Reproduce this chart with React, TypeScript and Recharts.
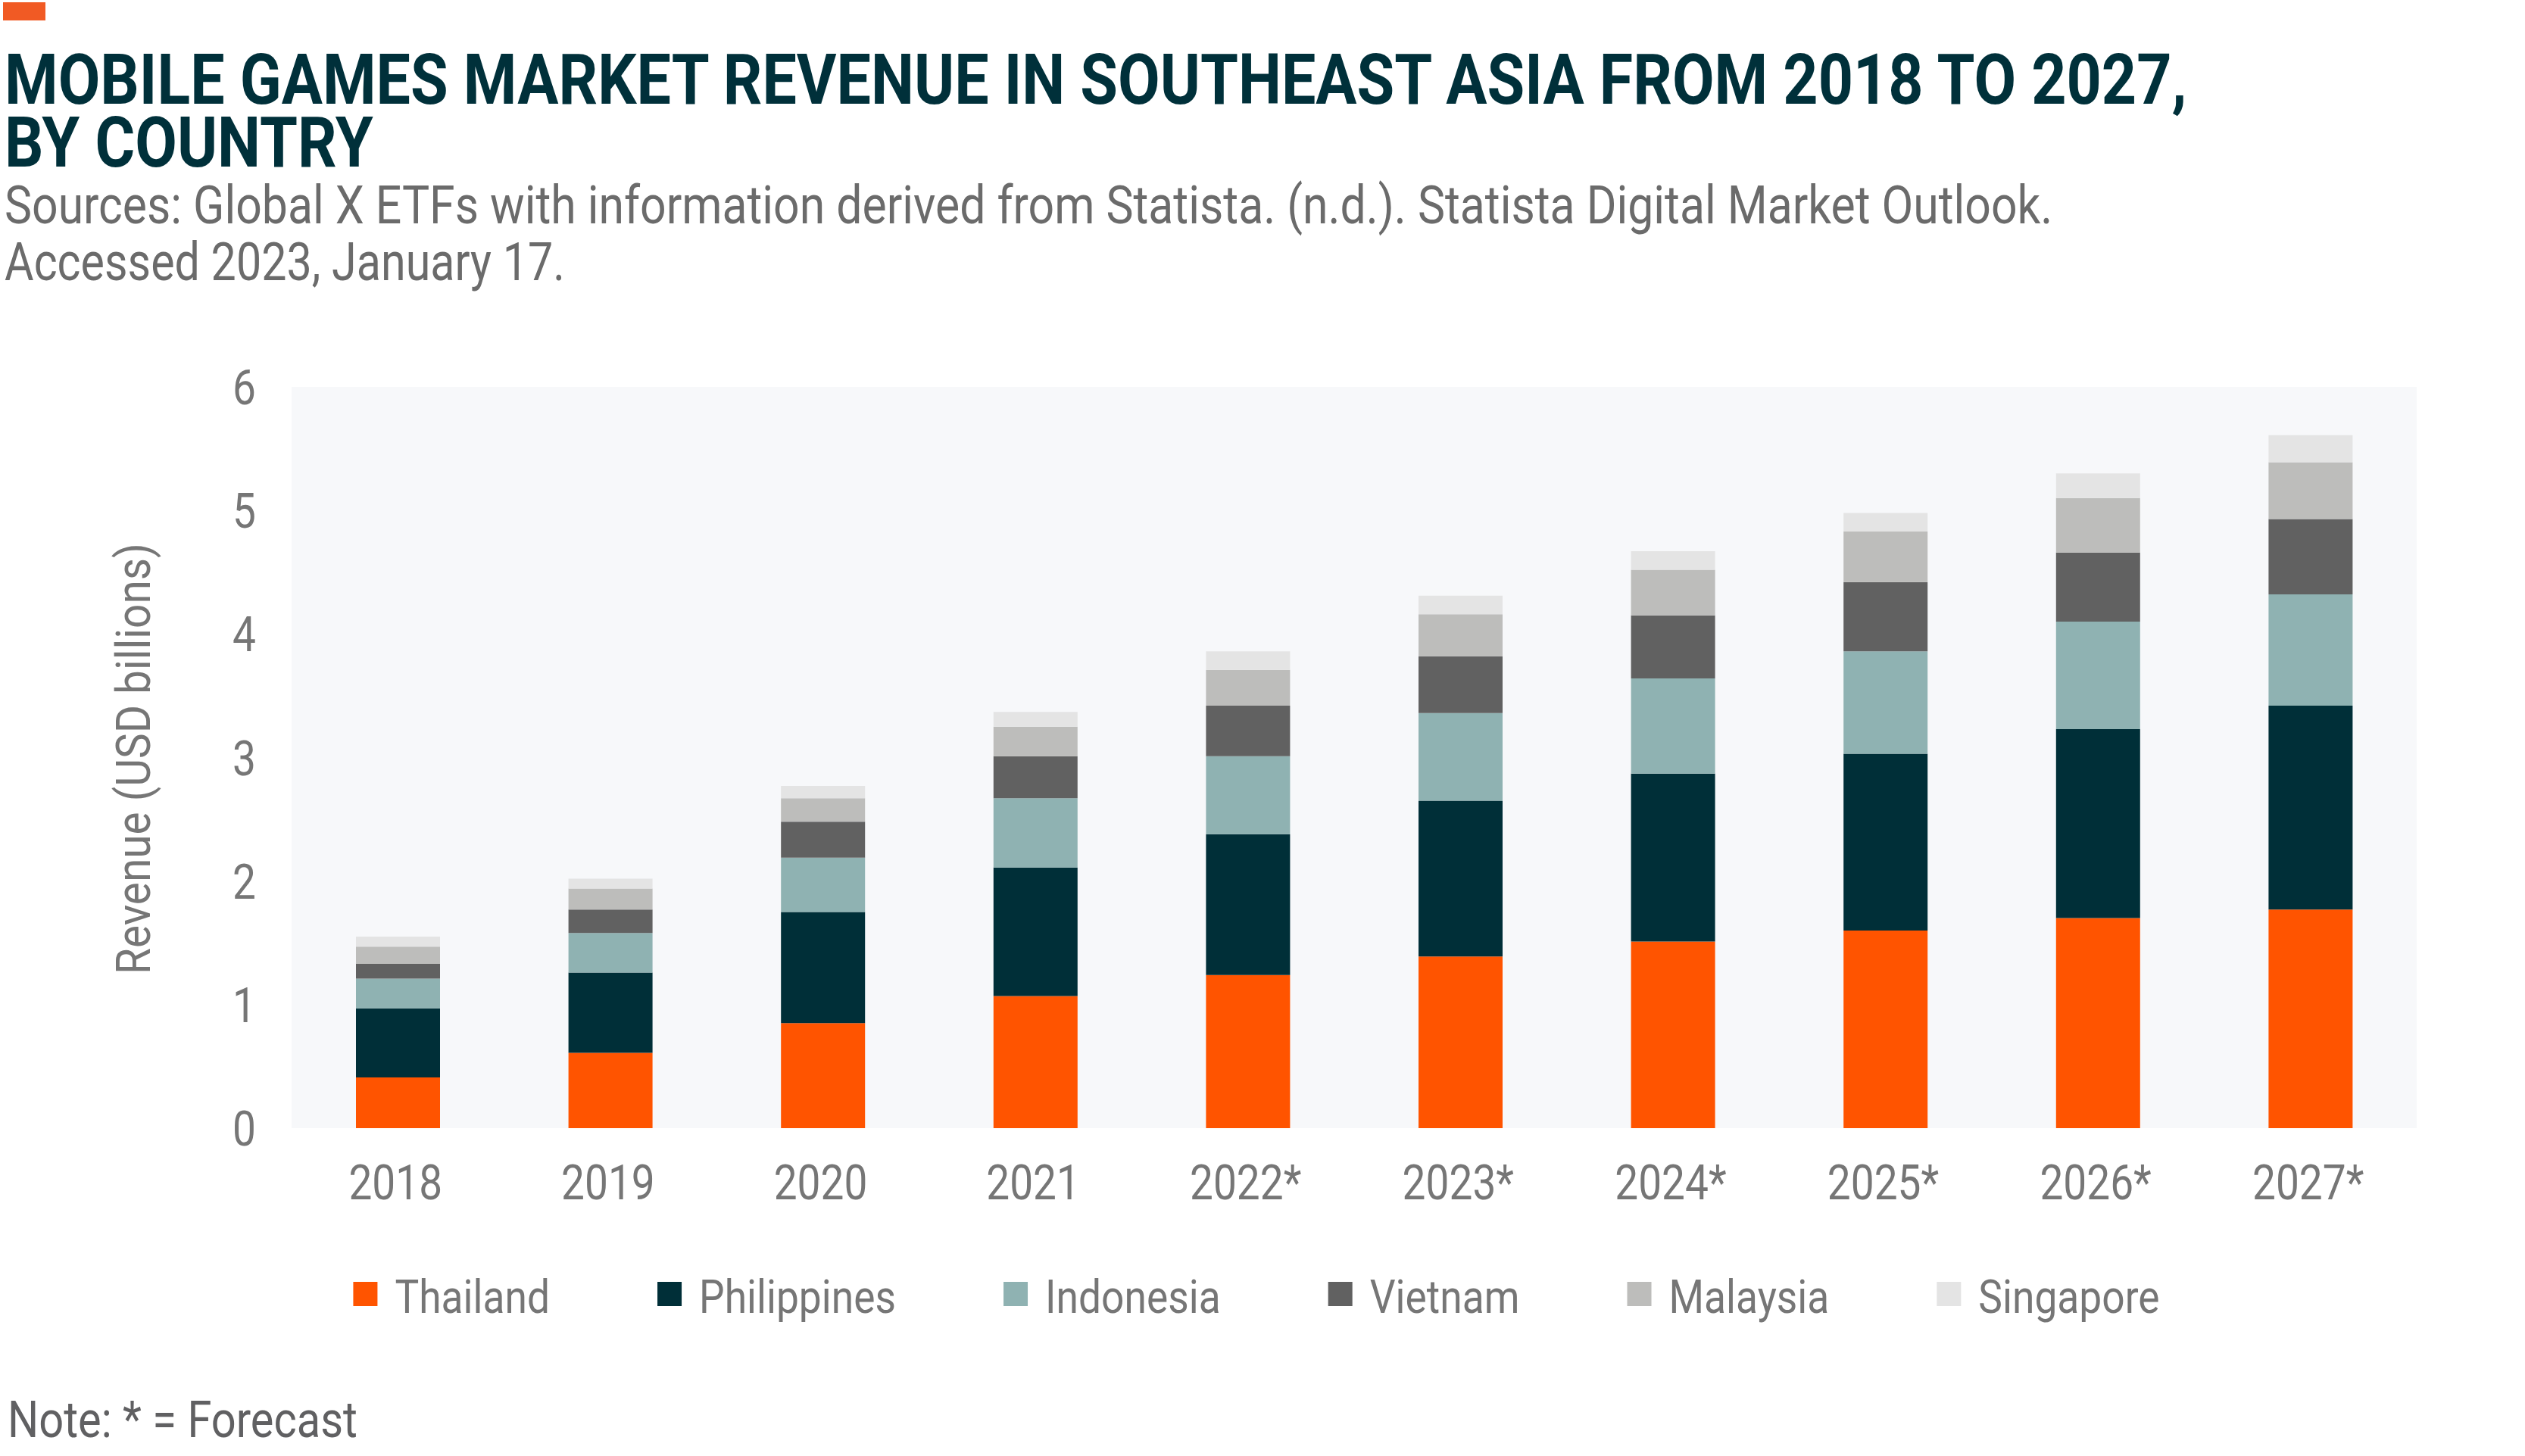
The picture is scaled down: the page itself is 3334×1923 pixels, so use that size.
import React from 'react';
import { BarChart, Bar, XAxis, YAxis, CartesianGrid, Legend } from 'recharts';

const years = ['2018', '2019', '2020', '2021', '2022*', '2023*', '2024*', '2025*', '2026*', '2027*'];
const thailand = [0.41, 0.61, 0.85, 1.07, 1.24, 1.39, 1.51, 1.6, 1.7, 1.77];
const philippines = [0.56, 0.65, 0.9, 1.04, 1.14, 1.26, 1.36, 1.43, 1.53, 1.65];
const indonesia = [0.24, 0.32, 0.44, 0.56, 0.63, 0.71, 0.77, 0.83, 0.87, 0.9];
const vietnam = [0.12, 0.19, 0.29, 0.34, 0.41, 0.46, 0.51, 0.56, 0.56, 0.61];
const malaysia = [0.14, 0.17, 0.19, 0.24, 0.29, 0.34, 0.37, 0.41, 0.44, 0.46];
const singapore = [0.08, 0.08, 0.1, 0.12, 0.15, 0.15, 0.15, 0.15, 0.2, 0.22];
const yTicks = [0, 1, 2, 3, 4, 5, 6];

const series = [
  { key: 'Thailand', values: thailand, color: '#ff5400' },
  { key: 'Philippines', values: philippines, color: '#002f38' },
  { key: 'Indonesia', values: indonesia, color: '#8fb2b2' },
  { key: 'Vietnam', values: vietnam, color: '#616161' },
  { key: 'Malaysia', values: malaysia, color: '#bdbdbb' },
  { key: 'Singapore', values: singapore, color: '#e4e4e4' },
];

const chartData = years.map((year, i) => {
  const row: Record<string, string | number> = { year };
  series.forEach((s) => {
    row[s.key] = s.values[i];
  });
  return row;
});

const W = 3334;
const H = 1923;
const FONT = "Roboto, 'Open Sans', sans-serif";
const LABEL_SIZE = 64;
const SQUEEZE = 0.86;
const TICK_COLOR = '#767676';
const TITLE_1 = 'MOBILE GAMES MARKET REVENUE IN SOUTHEAST ASIA FROM 2018 TO 2027,';
const TITLE_2 = 'BY COUNTRY';

// canvas measure, used to squeeze Roboto down to the narrow original face
const measureCtx = typeof document !== 'undefined' ? document.createElement('canvas').getContext('2d') : null;
function textWidth(s: string, size: number, weight = 400) {
  if (!measureCtx) return s.length * size * 0.5;
  measureCtx.font = `${weight} ${size}px Roboto`;
  return measureCtx.measureText(s).width;
}

// text drawn at its natural size, then squeezed sideways to a given width
function FitText(props: any) {
  const { x, y, width, size, weight = 400, fill, children } = props;
  const sx = width / textWidth(children, size, weight);
  return (
    <g transform={`translate(${x},${y}) scale(${sx},1)`}>
      <text x={0} y={0} fill={fill} fontSize={size} fontWeight={weight} fontFamily={FONT}>
        {children}
      </text>
    </g>
  );
}

function XTick(props: any) {
  const { x, y, payload } = props;
  return (
    <g transform={`translate(${x - 3},${y + 94}) scale(${SQUEEZE},1)`}>
      <text x={0} y={0} textAnchor="middle" fill={TICK_COLOR} fontSize={LABEL_SIZE} fontFamily={FONT}>
        {payload.value}
      </text>
    </g>
  );
}

function YTick(props: any) {
  const { x, y, payload } = props;
  return (
    <g transform={`translate(${x},${y + 23}) scale(${SQUEEZE},1)`}>
      <text x={0} y={0} textAnchor="end" fill={TICK_COLOR} fontSize={LABEL_SIZE} fontFamily={FONT}>
        {payload.value}
      </text>
    </g>
  );
}

function LegendContent() {
  const swatch = 32;
  const gap = 23;
  const itemGap = 142;
  const widths = series.map((s) => textWidth(s.key, 62) * SQUEEZE);
  const total = widths.reduce((a, w) => a + swatch + gap + w, 0) + itemGap * (series.length - 1);
  let cx = (W - total) / 2 - 8;
  return (
    <div style={{ height: 0, position: 'relative' }}>
      <svg width={W} height={80} style={{ position: 'absolute', left: 0, top: 0, overflow: 'visible' }}>
        {series.map((s, i) => {
          const x0 = cx;
          cx += swatch + gap + widths[i] + itemGap;
          return (
            <g key={s.key}>
              <rect x={x0} y={13} width={swatch} height={swatch} fill={s.color} />
              <g transform={`translate(${x0 + swatch + gap},54) scale(${SQUEEZE},1)`}>
                <text x={0} y={0} fill={TICK_COLOR} fontSize={62} fontFamily={FONT}>
                  {s.key}
                </text>
              </g>
            </g>
          );
        })}
      </svg>
    </div>
  );
}

export default function App() {
  const titleScale = 2888 / textWidth(TITLE_1, 92, 700);
  return (
    <div style={{ position: 'absolute', left: 0, top: 0, width: W, height: H, background: '#ffffff' }}>
      <BarChart
        width={W}
        height={H}
        data={chartData}
        margin={{ top: 511, right: 143, bottom: 403, left: 325 }}
      >
        <CartesianGrid horizontal={false} vertical={false} fill="#f7f8fa" />
        <XAxis
          dataKey="year"
          axisLine={false}
          tickLine={false}
          tickSize={0}
          tickMargin={0}
          interval={0}
          tick={(p: any) => <XTick {...p} />}
        />
        <YAxis
          domain={[0, 6]}
          ticks={yTicks}
          axisLine={false}
          tickLine={false}
          tickSize={0}
          tickMargin={47}
          width={60}
          tick={(p: any) => <YTick {...p} />}
        />
        <Legend
          verticalAlign="bottom"
          content={() => <LegendContent />}
          wrapperStyle={{ position: 'absolute', top: 1680, left: 0, width: W, height: 0 }}
        />
        {series.map((s) => (
          <Bar key={s.key} dataKey={s.key} stackId="a" fill={s.color} barSize={111} isAnimationActive={false} />
        ))}
      </BarChart>

      <svg
        width={W}
        height={H}
        style={{ position: 'absolute', left: 0, top: 0, pointerEvents: 'none' }}
      >
        <rect x={4} y={3} width={56} height={24} fill="#f15a24" />
        <g transform={`translate(6,137) scale(${titleScale},1)`}>
          <text x={0} y={0} fill="#00303a" fontSize={92} fontWeight={700} fontFamily={FONT}>
            <tspan x={0} dy={0}>{TITLE_1}</tspan>
            <tspan x={0} dy={83}>{TITLE_2}</tspan>
          </text>
        </g>
        <FitText x={6} y={295} width={2705} size={70} fill="#6b6b6b">
          Sources: Global X ETFs with information derived from Statista. (n.d.). Statista Digital Market Outlook.
        </FitText>
        <FitText x={6} y={370} width={740} size={70} fill="#6b6b6b">
          Accessed 2023, January 17.
        </FitText>
        <g transform="translate(198,1002) rotate(-90)">
          <FitText x={-285} y={0} width={570} size={63} fill={TICK_COLOR}>
            Revenue (USD billions)
          </FitText>
        </g>
        <FitText x={10} y={1898} width={462} size={66} fill="#606062">
          Note: * = Forecast
        </FitText>
      </svg>
    </div>
  );
}
